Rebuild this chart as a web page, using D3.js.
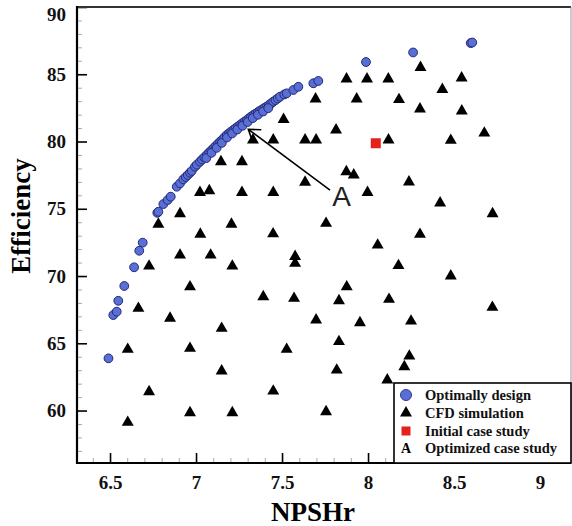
<!DOCTYPE html>
<html>
<head>
<meta charset="utf-8">
<script src="https://cdn.jsdelivr.net/npm/d3@7"></script>
<style>
  body { margin: 0; background: #fff; }
  svg { display: block; }
</style>
</head>
<body>
<svg id="chart" width="572" height="526"></svg>
<script>
// Pareto front ("Optimally design")
var optX = [6.491, 6.519, 6.539, 6.548, 6.583, 6.640, 6.670, 6.690, 6.775, 6.781, 6.810, 6.835, 6.853,
  6.888, 6.907, 6.926, 6.940, 6.952, 6.965, 6.975, 6.994, 7.005, 7.023, 7.035, 7.048, 7.062, 7.075,
  7.088, 7.101, 7.113, 7.127, 7.140, 7.152, 7.165, 7.178, 7.191, 7.204, 7.217, 7.230, 7.243, 7.256,
  7.269, 7.282, 7.295, 7.308, 7.320, 7.333, 7.346, 7.359, 7.372, 7.385, 7.398, 7.411, 7.424, 7.437,
  7.449, 7.462, 7.475, 7.488, 7.513, 7.527, 7.566, 7.595, 7.682, 7.711, 7.988, 8.262, 8.597, 8.606,
  7.06, 7.09, 7.12, 7.15, 7.18, 7.21, 7.24, 7.27, 7.30, 7.33, 7.36, 7.39, 7.42];
var optY = [63.88, 67.10, 67.35, 68.16, 69.26, 70.65, 71.88, 72.48, 74.70, 74.78, 75.35, 75.65, 75.90,
  76.64, 76.89, 77.19, 77.36, 77.51, 77.68, 77.81, 78.13, 78.28, 78.50, 78.66, 78.82, 79.00, 79.17,
  79.33, 79.49, 79.65, 79.83, 79.99, 80.13, 80.31, 80.48, 80.60, 80.74, 80.86, 80.99, 81.11, 81.23,
  81.36, 81.48, 81.60, 81.73, 81.85, 81.97, 82.07, 82.18, 82.29, 82.39, 82.50, 82.59, 82.72, 82.84,
  82.96, 83.08, 83.20, 83.33, 83.50, 83.58, 83.83, 84.07, 84.33, 84.50, 85.91, 86.62, 87.32, 87.36,
  78.77, 79.16, 79.53, 79.90, 80.30, 80.60, 80.89, 81.17, 81.45, 81.74, 81.99, 82.23, 82.48];

// CFD simulation points
var cfdX = [8.305, 7.875, 7.994, 8.118, 8.544, 8.432, 7.695, 7.934, 8.180, 8.302, 8.545, 7.509, 7.814,
  8.676, 7.331, 7.449, 7.634, 7.698, 8.119, 8.481, 7.145, 7.267, 7.874, 7.917, 7.634, 8.238, 7.023,
  7.077, 7.267, 7.449, 7.997, 6.907, 8.419, 8.724, 6.781, 7.206, 7.025, 7.448, 8.302, 7.756, 8.056,
  6.907, 7.085, 7.576, 7.576, 8.177, 6.727, 7.211, 8.481, 6.965, 7.876, 7.391, 7.570, 7.831, 8.122,
  8.723, 6.665, 6.849, 7.698, 7.953, 8.250, 7.149, 6.603, 6.965, 7.527, 7.831, 8.240, 8.211, 7.149,
  7.818, 8.112, 6.727, 7.449, 6.965, 7.211, 7.756, 6.603];
var cfdY = [85.50, 84.65, 84.65, 84.65, 84.72, 83.87, 83.16, 83.16, 83.12, 82.42, 82.27, 81.64, 80.86,
  80.63, 80.11, 80.11, 80.11, 80.11, 80.11, 80.09, 78.50, 78.50, 77.75, 77.51, 76.97, 76.99, 76.21,
  76.34, 76.21, 76.21, 76.21, 74.63, 75.43, 74.63, 73.85, 73.85, 73.11, 73.14, 73.10, 73.92, 72.30,
  71.56, 71.56, 71.45, 70.94, 70.78, 70.74, 70.74, 70.00, 69.20, 69.20, 68.46, 68.34, 68.16, 68.27,
  67.67, 67.60, 66.86, 66.73, 66.53, 66.65, 66.11, 64.55, 64.62, 64.55, 65.12, 64.05, 63.26, 62.94,
  63.01, 62.27, 61.40, 61.45, 59.84, 59.84, 59.91, 59.12];

// initial case study
var initX = [8.045];
var initY = [79.87];

// optimized case "A": arrow tip, arrow tail, label
var arrowTip = [7.304, 80.91];
var arrowTail = [7.779, 76.39];
var labelA = [7.846, 75.95];

var xTicks = [6.5, 7, 7.5, 8, 8.5, 9];
var yTicks = [60, 65, 70, 75, 80, 85, 90];
var legendLabels = ["Optimally design", "CFD simulation", "Initial case study", "Optimized case study"];

var serif = '"Liberation Serif", "Times New Roman", serif';

var svg = d3.select('#chart');

var x = d3.scaleLinear().domain([6.308, 9.18]).range([77, 571]);
var y = d3.scaleLinear().domain([56.1, 90]).range([463, 7]);

// minor ticks
var minorX = d3.range(64, 92).map(function(d) { return d / 10; })
  .filter(function(d) { return Math.abs(d * 2 - Math.round(d * 2)) > 0.01; });
var minorY = d3.range(57, 90).filter(function(d) { return d % 5 != 0; });

svg.append('g')
  .attr('transform', 'translate(0,463)')
  .call(d3.axisBottom(x).tickValues(minorX).tickSizeInner(-5).tickSizeOuter(0).tickFormat(''))
  .call(function(g) { g.select('.domain').remove(); })
  .selectAll('line').attr('stroke', '#aaa');

svg.append('g')
  .attr('transform', 'translate(77,0)')
  .call(d3.axisLeft(y).tickValues(minorY).tickSizeInner(-5).tickSizeOuter(0).tickFormat(''))
  .call(function(g) { g.select('.domain').remove(); })
  .selectAll('line').attr('stroke', '#aaa');

// major axes
var xAxis = svg.append('g')
  .attr('transform', 'translate(0,463)')
  .call(d3.axisBottom(x).tickValues(xTicks).tickFormat(d3.format('')).tickSizeInner(-10).tickSizeOuter(0).tickPadding(13));
xAxis.select('.domain').remove();
xAxis.selectAll('line').attr('stroke', '#000').attr('stroke-width', 1.6);
xAxis.selectAll('text')
  .attr('font-family', serif).attr('font-weight', 'bold').attr('font-size', 19).attr('fill', '#111');

var yAxis = svg.append('g')
  .attr('transform', 'translate(77,0)')
  .call(d3.axisLeft(y).tickValues(yTicks).tickSizeInner(-10).tickSizeOuter(0).tickPadding(11));
yAxis.select('.domain').remove();
yAxis.selectAll('line').attr('stroke', '#000').attr('stroke-width', 1.6);
yAxis.selectAll('text')
  .attr('font-family', serif).attr('font-weight', 'bold').attr('font-size', 19).attr('fill', '#111');
// top label sits a little lower so it is not cut by the edge
yAxis.selectAll('.tick').filter(function(d) { return d == 90; })
  .select('text').attr('dy', '0.7em');

// frame
svg.append('line').attr('x1', 77).attr('x2', 571).attr('y1', 7).attr('y2', 7)
  .attr('stroke', '#333').attr('stroke-width', 2);
svg.append('line').attr('x1', 571).attr('x2', 571).attr('y1', 7).attr('y2', 463)
  .attr('stroke', '#999').attr('stroke-width', 1);
svg.append('line').attr('x1', 77).attr('x2', 77).attr('y1', 6).attr('y2', 464)
  .attr('stroke', '#000').attr('stroke-width', 2.2);
svg.append('line').attr('x1', 76).attr('x2', 571).attr('y1', 463).attr('y2', 463)
  .attr('stroke', '#000').attr('stroke-width', 2.2);

// axis titles
svg.append('text')
  .attr('x', (x(6.308) + x(9.18)) / 2 - 11).attr('y', 521)
  .attr('text-anchor', 'middle')
  .attr('font-family', serif).attr('font-weight', 'bold').attr('font-size', 27)
  .text('NPSHr');

svg.append('text')
  .attr('transform', 'translate(30,216) rotate(-90)')
  .attr('text-anchor', 'middle')
  .attr('font-family', serif).attr('font-weight', 'bold').attr('font-size', 27)
  .text('Efficiency');

// CFD simulation triangles
var tri = d3.symbol().type(d3.symbolTriangle).size(62);
svg.append('g').selectAll('path')
  .data(d3.range(cfdX.length))
  .enter().append('path')
  .attr('d', tri)
  .attr('transform', function(i) { return 'translate(' + x(cfdX[i]) + ',' + y(cfdY[i]) + ')'; })
  .attr('fill', '#000');

// optimal designs
svg.append('g').selectAll('circle')
  .data(d3.range(optX.length))
  .enter().append('circle')
  .attr('cx', function(i) { return x(optX[i]); })
  .attr('cy', function(i) { return y(optY[i]); })
  .attr('r', 4.4)
  .attr('fill', '#5a6fd6')
  .attr('stroke', '#222a78')
  .attr('stroke-width', 1);

// initial case
svg.append('g').selectAll('rect')
  .data(d3.range(initX.length))
  .enter().append('rect')
  .attr('x', function(i) { return x(initX[i]) - 5; })
  .attr('y', function(i) { return y(initY[i]) - 5; })
  .attr('width', 10).attr('height', 10)
  .attr('fill', '#e3221c');

// arrow to optimized case A
var tx = x(arrowTip[0]), ty = y(arrowTip[1]);
var sx = x(arrowTail[0]), sy = y(arrowTail[1]);
var ang = Math.atan2(sy - ty, sx - tx);
svg.append('line')
  .attr('x1', sx).attr('y1', sy).attr('x2', tx).attr('y2', ty)
  .attr('stroke', '#000').attr('stroke-width', 1.6);
svg.append('path')
  .attr('d', 'M' + (tx + 13 * Math.cos(ang - 0.6)) + ',' + (ty + 13 * Math.sin(ang - 0.6)) +
    'L' + tx + ',' + ty +
    'L' + (tx + 13 * Math.cos(ang + 0.6)) + ',' + (ty + 13 * Math.sin(ang + 0.6)))
  .attr('fill', 'none').attr('stroke', '#000').attr('stroke-width', 1.6);

svg.append('text')
  .attr('x', x(labelA[0])).attr('y', y(labelA[1]))
  .attr('dy', '0.36em')
  .attr('text-anchor', 'middle')
  .attr('font-family', '"Liberation Sans", Arial, sans-serif').attr('font-size', 28)
  .attr('fill', '#222')
  .text('A');

// legend
var lg = svg.append('g');
lg.append('rect')
  .attr('x', 394).attr('y', 383).attr('width', 177).attr('height', 80)
  .attr('fill', '#fff').attr('stroke', '#000').attr('stroke-width', 1.6);

var rowY = [395, 413, 431, 448];
lg.append('circle').attr('cx', 406).attr('cy', rowY[0]).attr('r', 5.5)
  .attr('fill', '#5a6fd6').attr('stroke', '#2c3a96').attr('stroke-width', 1);
lg.append('path').attr('d', tri).attr('transform', 'translate(406,' + rowY[1] + ')').attr('fill', '#000');
lg.append('rect').attr('x', 401.5).attr('y', rowY[2] - 4.5).attr('width', 9).attr('height', 9).attr('fill', '#e3221c');
lg.append('text').attr('x', 406).attr('y', rowY[3]).attr('dy', '0.35em')
  .attr('text-anchor', 'middle')
  .attr('font-family', serif).attr('font-weight', 'bold').attr('font-size', 14)
  .text('A');

lg.selectAll('text.lbl')
  .data(legendLabels)
  .enter().append('text')
  .attr('class', 'lbl')
  .attr('x', 425)
  .attr('y', function(d, i) { return rowY[i]; })
  .attr('dy', '0.35em')
  .attr('font-family', serif).attr('font-weight', 'bold').attr('font-size', 14.5)
  .attr('fill', '#111')
  .text(function(d) { return d; });
</script>
</body>
</html>
